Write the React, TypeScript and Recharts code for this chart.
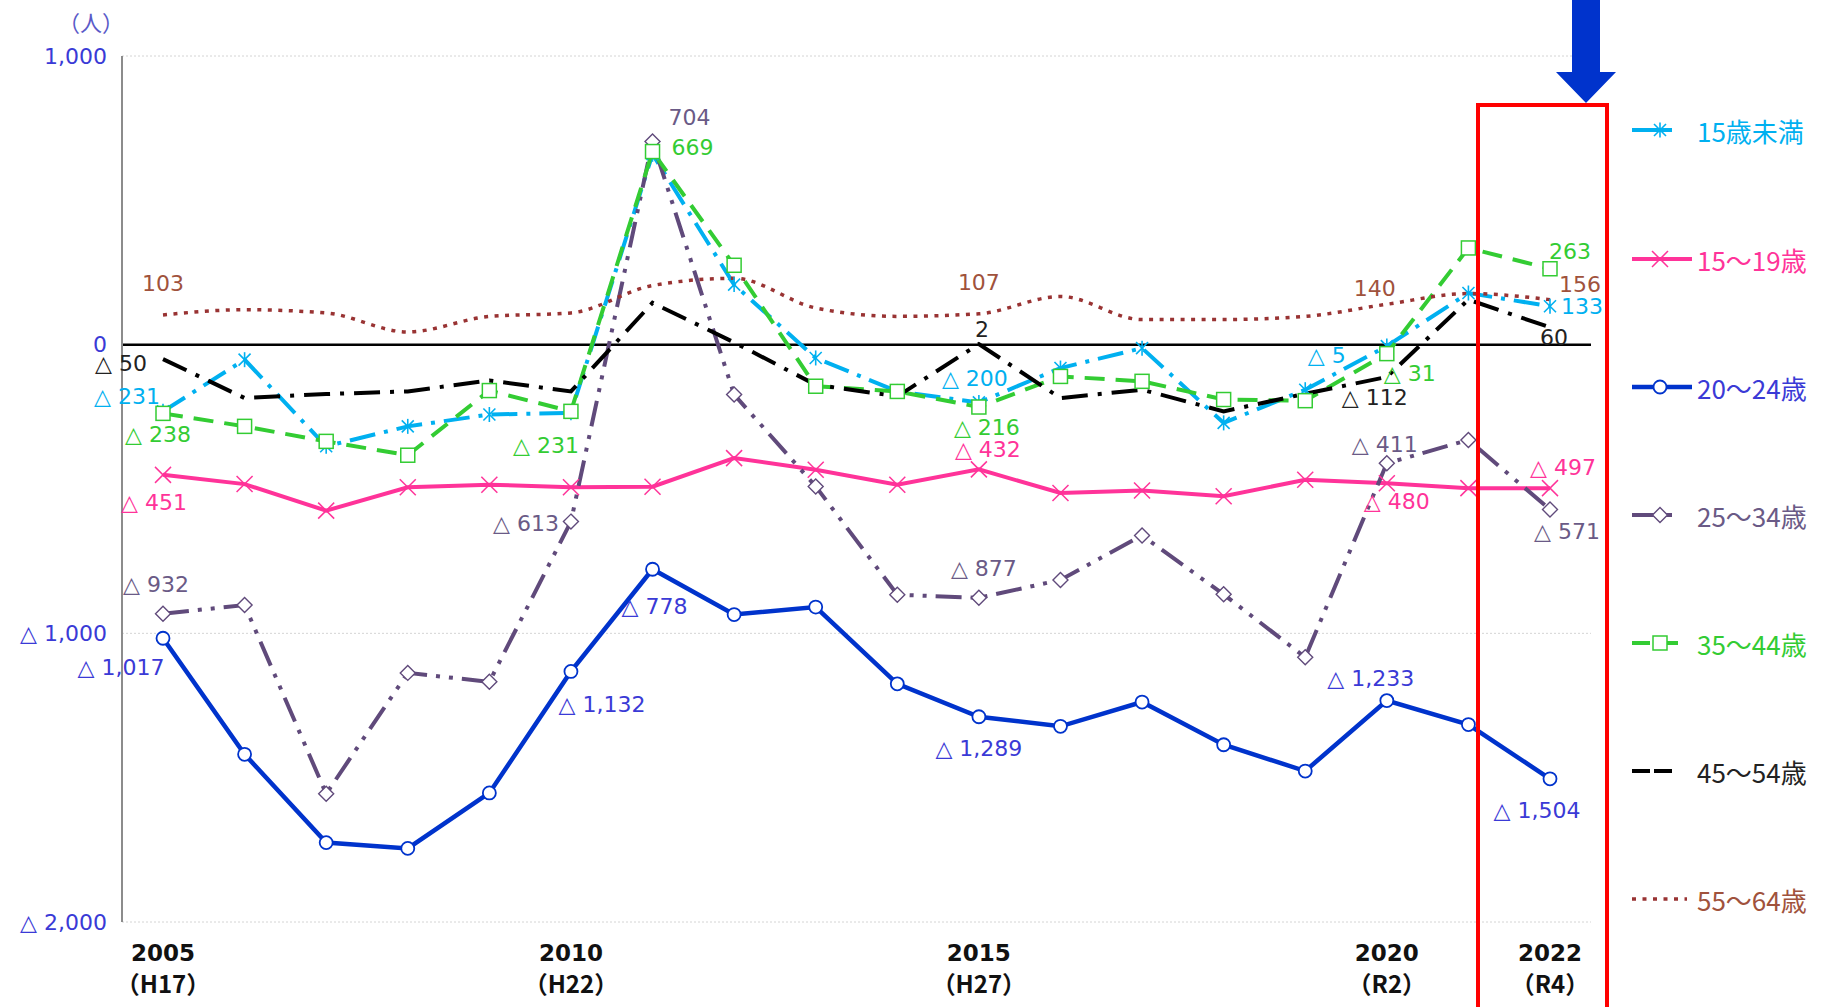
import React from 'react';
import { LineChart, Line, XAxis, YAxis, CartesianGrid, ReferenceLine, LabelList } from 'recharts';

// ---------- data ----------
const years = [2005, 2006, 2007, 2008, 2009, 2010, 2011, 2012, 2013, 2014, 2015, 2016, 2017, 2018, 2019, 2020, 2021, 2022];
const under15 = [-231, -52, -352, -283, -242, -236, 660, 208, -46, -162, -200, -81, -12, -271, -156, -5, 179, 133];
const age15to19 = [-451, -483, -575, -494, -485, -494, -492, -393, -433, -485, -432, -514, -505, -525, -468, -480, -497, -497];
const age20to24 = [-1017, -1419, -1725, -1745, -1553, -1132, -778, -935, -909, -1175, -1289, -1322, -1238, -1386, -1477, -1233, -1316, -1504];
const age25to34 = [-932, -902, -1556, -1137, -1168, -613, 704, -173, -491, -866, -877, -815, -661, -865, -1083, -411, -330, -571];
const age35to44 = [-238, -283, -335, -383, -159, -231, 669, 275, -144, -162, -216, -110, -127, -190, -194, -31, 335, 263];
const age45to54 = [-50, -185, -171, -162, -124, -162, 145, 8, -139, -179, 2, -185, -156, -231, -170, -112, 156, 60];
const age55to64 = [103, 121, 110, 44, 98, 110, 205, 230, 127, 98, 107, 167, 87, 87, 98, 140, 177, 156];

const seriesNames = ['15歳未満', '15～19歳', '20～24歳', '25～34歳', '35～44歳', '45～54歳', '55～64歳'];
const yTicks = [-2000, -1000, 0, 1000];
const xTickLabels: Record<number, [string, string]> = {
  2005: ['2005', '（H17）'],
  2010: ['2010', '（H22）'],
  2015: ['2015', '（H27）'],
  2020: ['2020', '（R2）'],
  2022: ['2022', '（R4）'],
};
const unitLabel = '（人）';

const seriesValues = [under15, age15to19, age20to24, age25to34, age35to44, age45to54, age55to64];
const data = years.map((year, i) => {
  const row: any = { year };
  seriesValues.forEach((arr, k) => { row['s' + k] = arr[i]; });
  return row;
});

// ---------- styles ----------
const FONT = "'Noto Sans CJK JP', 'Noto Sans', sans-serif";
const NUMFONT = "'DejaVu Sans', 'Noto Sans CJK JP', sans-serif";
type MarkerKind = 'asterisk' | 'x' | 'circle' | 'diamond' | 'square' | 'none';
const styles: { color: string; width: number; dash?: string; marker: MarkerKind; type: 'linear' | 'monotone'; legendDash?: string; legendLen: number }[] = [
  { color: '#00b0f0', width: 4, dash: '26 9 4 9', marker: 'asterisk', type: 'linear', legendLen: 40 },
  { color: '#ff3399', width: 4, marker: 'x', type: 'linear', legendLen: 60 },
  { color: '#0033cc', width: 4.5, marker: 'circle', type: 'linear', legendLen: 60 },
  { color: '#604a7b', width: 4, dash: '26 9 4 9 4 9', marker: 'diamond', type: 'linear', legendLen: 40 },
  { color: '#33cc33', width: 4, dash: '20 11', marker: 'square', type: 'linear', legendDash: '18 10', legendLen: 55 },
  { color: '#000000', width: 4, dash: '26 10 4 10', marker: 'none', type: 'linear', legendDash: '18 4', legendLen: 40 },
  { color: '#993333', width: 3.5, dash: '4 6.5', marker: 'none', type: 'monotone', legendDash: '4 6.5', legendLen: 55 },
];
const labelColors = ['#00b0f0', '#ff3399', '#3a3ad6', '#6a5a86', '#33cc33', '#222222', '#a0523c'];

// label offsets (dx, dy from point) per series index -> data index
const labelOffsets: Record<number, [number, number]>[] = [
  { 0: [-36, -15], 10: [-4, -24], 15: [-60, 9], 17: [32, 0] },
  { 0: [-9, 28], 10: [9, -20], 15: [10, 18], 17: [13, -21] },
  { 0: [-42, 29], 5: [31, 33], 6: [2, 37], 10: [0, 32], 15: [-16, -22], 17: [-13, 32] },
  { 0: [-7, -29], 5: [-45, 2], 6: [37, -24], 10: [5, -29], 15: [-2, -19], 17: [17, 22] },
  { 0: [-5, 21], 5: [-25, 34], 6: [40, -4], 10: [8, 20], 15: [23, 20], 17: [20, -17] },
  { 0: [-42, 4], 10: [3, -15], 15: [-12, 21], 17: [4, 10] },
  { 0: [0, -31], 10: [0, -31], 15: [-12, -16], 17: [30, -15] },
];

const fmt = (v: number) => (v < 0 ? '△ ' + Math.abs(v).toLocaleString('en-US') : v.toLocaleString('en-US'));

function Marker({ kind, cx, cy, color }: { kind: MarkerKind; cx: number; cy: number; color: string }) {
  if (kind === 'asterisk') {
    const r = 7.5, d = 6;
    return (
      <g stroke={color} strokeWidth={1.6}>
        <line x1={cx} y1={cy - r} x2={cx} y2={cy + r} />
        <line x1={cx - d} y1={cy - d} x2={cx + d} y2={cy + d} />
        <line x1={cx - d} y1={cy + d} x2={cx + d} y2={cy - d} />
      </g>
    );
  }
  if (kind === 'x') {
    const d = 8;
    return (
      <g stroke={color} strokeWidth={1.5}>
        <line x1={cx - d} y1={cy - d} x2={cx + d} y2={cy + d} />
        <line x1={cx - d} y1={cy + d} x2={cx + d} y2={cy - d} />
      </g>
    );
  }
  if (kind === 'circle') return <circle cx={cx} cy={cy} r={6.5} fill="#fff" stroke={color} strokeWidth={1.8} />;
  if (kind === 'diamond') {
    const d = 7.5;
    return <polygon points={`${cx},${cy - d} ${cx + d},${cy} ${cx},${cy + d} ${cx - d},${cy}`} fill="#fff" stroke={color} strokeWidth={1.4} />;
  }
  if (kind === 'square') return <rect x={cx - 7} y={cy - 7} width={14} height={14} fill="#fff" stroke={color} strokeWidth={1.5} />;
  return null;
}

const makeDot = (k: number) => (props: any) => {
  const { cx, cy, index } = props;
  if (styles[k].marker === 'none' || cx == null || cy == null) return <g key={`d${k}-${index}`} />;
  return (
    <g key={`d${k}-${index}`}>
      <Marker kind={styles[k].marker} cx={cx} cy={cy} color={styles[k].color} />
    </g>
  );
};

const makeLabel = (k: number) => (props: any) => {
  const { x, y, value, index } = props;
  const off = labelOffsets[k][index];
  if (!off) return null;
  return (
    <text x={x + off[0]} y={y + off[1]} textAnchor="middle" dominantBaseline="central" fill={labelColors[k]} fontSize={22} fontFamily={NUMFONT}>
      {fmt(value)}
    </text>
  );
};

const YTick = (props: any) => {
  const { x, y, payload } = props;
  return (
    <text x={x} y={y} textAnchor="end" dominantBaseline="central" fill="#3a3ad6" fontSize={22} fontFamily={NUMFONT}>
      {fmt(payload.value)}
    </text>
  );
};

const XTick = (props: any) => {
  const { x, y, payload } = props;
  const lab = xTickLabels[payload.value];
  if (!lab) return <g />;
  return (
    <g>
      <text x={x} y={y + 31} textAnchor="middle" dominantBaseline="central" fill="#111" fontSize={23} fontWeight="bold" fontFamily={NUMFONT}>{lab[0]}</text>
      <text x={x} y={y + 60} textAnchor="middle" dominantBaseline="central" fill="#111" fontSize={24} fontWeight="bold" fontFamily={FONT}>{lab[1]}</text>
    </g>
  );
};

const legendY = [130, 259, 387, 515, 643, 771, 899];

export default function App() {
  return (
    <div style={{ position: 'absolute', left: 0, top: 0, width: 1827, height: 1007, background: '#fff', overflow: 'hidden' }}>
      <LineChart width={1827} height={1007} data={data} margin={{ top: 56, right: 236, bottom: 0, left: 0 }}>
        <CartesianGrid vertical={false} stroke="#d4d4d4" strokeDasharray="2 2" />
        <XAxis dataKey="year" type="category" interval={0} padding={{ left: 41, right: 41 }} axisLine={false} tickLine={false} tickSize={0} tickMargin={0} height={85} tick={<XTick />} />
        <YAxis width={122} domain={[-2000, 1000]} ticks={yTicks} interval={0} allowDataOverflow axisLine={{ stroke: '#8c8c8c', strokeWidth: 2 }} tickLine={false} tickSize={0} tickMargin={15} tick={<YTick />} />
        <ReferenceLine y={0} stroke="#000" strokeWidth={2.5} />
        {styles.map((s, k) => (
          <Line
            key={k}
            dataKey={'s' + k}
            name={seriesNames[k]}
            type={s.type}
            stroke={s.color}
            strokeWidth={s.width}
            strokeDasharray={s.dash}
            dot={makeDot(k)}
            activeDot={false}
            isAnimationActive={false}
          >
            <LabelList dataKey={'s' + k} content={makeLabel(k)} />
          </Line>
        ))}
      </LineChart>
      <svg width={1827} height={1007} style={{ position: 'absolute', left: 0, top: 0, pointerEvents: 'none' }}>
        <text x={91} y={21} textAnchor="middle" dominantBaseline="central" fill="#5a5ac8" fontSize={22} fontFamily={FONT}>{unitLabel}</text>
        {seriesNames.map((name, k) => {
          const s = styles[k];
          const y = legendY[k];
          return (
            <g key={name}>
              <line x1={1632} y1={y} x2={1632 + s.legendLen} y2={y} stroke={s.color} strokeWidth={s.width} strokeDasharray={s.legendDash} />
              <Marker kind={s.marker} cx={1660} cy={y} color={s.color} />
              <text x={1697} y={y} dominantBaseline="central" fill={labelColors[k]} fontSize={26} fontFamily={FONT}>{name}</text>
            </g>
          );
        })}
        <rect x={1478} y={105} width={129} height={960} fill="none" stroke="#ff0000" strokeWidth={4} />
        <polygon points="1572,0 1600,0 1600,72 1616,72 1586,103 1556,72 1572,72" fill="#0033cc" />
      </svg>
    </div>
  );
}
